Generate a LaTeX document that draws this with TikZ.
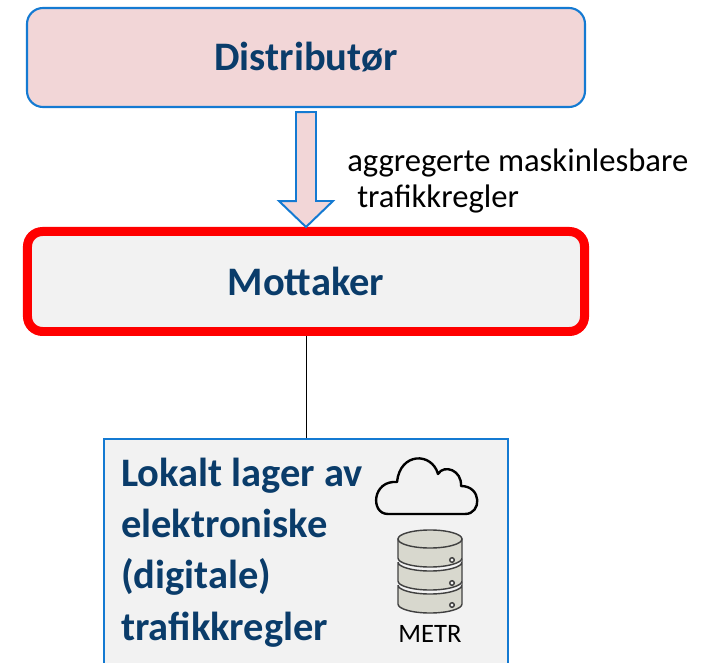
\documentclass[tikz,border=0pt]{standalone}
\usepackage{fontspec}
\setmainfont{Carlito}
\usetikzlibrary{calc}

\definecolor{distfyll}{RGB}{242,214,215}
\definecolor{kantblaa}{RGB}{20,122,210}
\definecolor{tekstblaa}{RGB}{10,60,106}
\definecolor{boksgraa}{RGB}{242,242,242}
\definecolor{dbgraa}{RGB}{216,216,206}

\tikzset{
  hovedboks/.style={inner sep=0pt, text=tekstblaa,
    font=\bfseries\fontsize{28.8}{34}\selectfont},
  etikett/.style={inner sep=0pt, align=left,
    font=\fontsize{23.2}{26.3}\selectfont},
  lagertekst/.style={inner sep=0pt, align=left, text=tekstblaa,
    font=\bfseries\fontsize{28.8}{36.3}\selectfont},
  dbstil/.style={fill=dbgraa, draw=black!75, line width=1pt},
  skystil/.style={draw=black, line width=1.7pt, line join=round}
}

\begin{document}
\begin{tikzpicture}[x=0.25mm,y=0.25mm]
\useasboundingbox (0,0) rectangle (704,-663);
\clip (0,0) rectangle (704,-663);

% Distributor box
\node[hovedboks, draw=kantblaa, line width=1.5pt, fill=distfyll,
  rounded corners=4mm, minimum width=139.5mm, minimum height=24.75mm]
  (distributor) at (306,-57.5) {Distributør};

% Mottaker box, thick red frame
\node[hovedboks, draw=red, line width=6.4pt, fill=boksgraa,
  rounded corners=3.75mm, minimum width=139.25mm, minimum height=25mm]
  (mottaker) at (306,-281.5) {Mottaker};

% Block arrow between the two
\filldraw[fill=distfyll, draw=kantblaa, line width=1.4pt]
  ($(distributor.south)+(-10,-4)$) -- ++(0,-89) -- ++(-17,0)
  -- (mottaker.north) -- ++(27,26) -- ++(-17,0) -- ++(0,89) -- cycle;
\node[etikett, anchor=base west] (etikett) at (347,-208)
  {aggregerte maskinlesbare\\\hspace*{2.5mm}trafikkregler};

% Local store
\node[draw=kantblaa, line width=1.4pt, fill=boksgraa, anchor=north west,
  minimum width=101mm, minimum height=70mm] (lager) at (103,-438) {};
\draw[line width=0.7pt] (mottaker.south) -- (mottaker.south |- lager.north);
\node[lagertekst, anchor=base west] (lagertekst) at (121,-640)
  {Lokalt lager av\\elektroniske\\(digitale)\\trafikkregler};

% Cloud
\draw[skystil] (388,-514) -- (465,-514)
  .. controls (482,-514) and (482,-486) .. (461,-486)
  .. controls (462,-470) and (444,-464) .. (438,-474)
  .. controls (432,-452) and (400,-452) .. (397,-482)
  .. controls (372,-480) and (370,-514) .. (388,-514) -- cycle;

% Database stack
\filldraw[dbstil] (398,-539) -- (398,-558)
  arc[start angle=180, end angle=360, x radius=32, y radius=9]
  -- (462,-539) -- cycle;
\filldraw[dbstil] (430,-539) ellipse[x radius=32, y radius=9];
\filldraw[dbstil] (398,-562) -- (398,-581)
  arc[start angle=180, end angle=360, x radius=32, y radius=9]
  -- (462,-562) arc[start angle=0, end angle=-180, x radius=32, y radius=9];
\filldraw[dbstil] (398,-585) -- (398,-604)
  arc[start angle=180, end angle=360, x radius=32, y radius=9]
  -- (462,-585) arc[start angle=0, end angle=-180, x radius=32, y radius=9];
\filldraw[dbstil, fill=boksgraa] (452,-560) circle (2.3);
\filldraw[dbstil, fill=boksgraa] (452,-583) circle (2.3);
\filldraw[dbstil, fill=boksgraa] (452,-605) circle (2.3);
\node[font=\fontsize{18.9}{22}\selectfont, inner sep=0pt, anchor=base]
  (metr) at (430,-642) {METR};
\end{tikzpicture}
\end{document}
